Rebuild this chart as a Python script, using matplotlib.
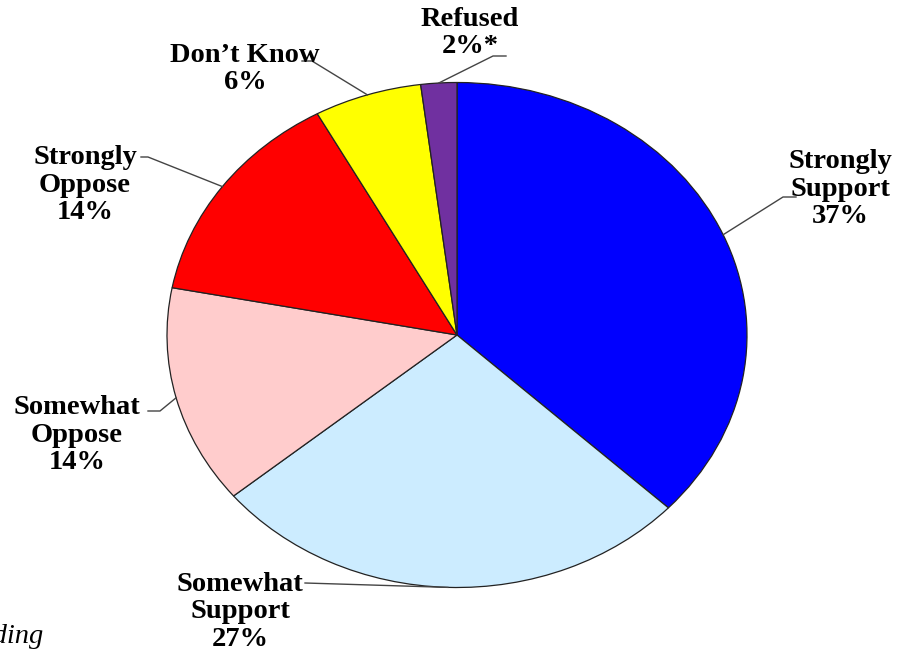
import numpy as np
import matplotlib
matplotlib.use("Agg")
import matplotlib.pyplot as plt

categories = ["Strongly\nSupport", "Somewhat\nSupport", "Somewhat\nOppose",
              "Strongly\nOppose", "Don\u2019t Know", "Refused"]
values = [37, 27, 14, 14, 6, 2]
pct_labels = ["37%", "27%", "14%", "14%", "6%", "2%*"]
colors = ["#0000FF", "#CCECFF", "#FFCCCC", "#FF0000", "#FFFF00", "#7030A0"]
footnote = "*Does not add to 100% due to rounding"

W, H = 909, 655
fig = plt.figure(figsize=(W / 100, H / 100), dpi=100)
cx, cy, rx, ry = 457, 335, 290, 252.5
ax = fig.add_axes([(cx - rx) / W, (H - cy - ry) / H, 2 * rx / W, 2 * ry / H])

wedges, _ = ax.pie(values, colors=colors, startangle=90, counterclock=False,
                   radius=1, wedgeprops=dict(edgecolor="#222222", linewidth=0.9))
ax.set_aspect("auto")
ax.set_xlim(-1, 1)
ax.set_ylim(-1, 1)
ax.axis("off")


def p2d(x, y):
    return (x - cx) / rx, (cy - y) / ry


# text centres and leader elbows (pixel layout)
text_pos = [(840, 189), (240, 612), (77, 435), (85, 185), (245, 69), (470, 33)]
elbows = [[(783, 197), (796, 197)],
          [(305, 583)],
          [(160, 411), (148, 411)],
          [(148, 157), (141, 157)],
          [(312, 61), (302, 61)],
          [(493, 56), (506, 56)]]

font = dict(family="Liberation Serif", fontweight="bold", fontsize=20.5)
for w, cat, pct, tp, el in zip(wedges, categories, pct_labels, text_pos, elbows):
    mid = np.deg2rad((w.theta1 + w.theta2) / 2)
    x0, y0 = np.cos(mid), np.sin(mid)
    pts = [(x0, y0)] + [p2d(*e) for e in el]
    xs, ys = zip(*pts)
    ax.plot(xs, ys, color="#444444", lw=1.0, clip_on=False)
    tx, ty = p2d(*tp)
    ax.text(tx, ty, f"{cat}\n{pct}", ha="center", va="center",
            multialignment="center", linespacing=1.14, **font)

fig.text(43 / W, 1 - 643 / H, footnote, ha="right", va="baseline",
         family="Liberation Serif", style="italic", fontsize=20.5)

fig.savefig("out.png", dpi=100)
